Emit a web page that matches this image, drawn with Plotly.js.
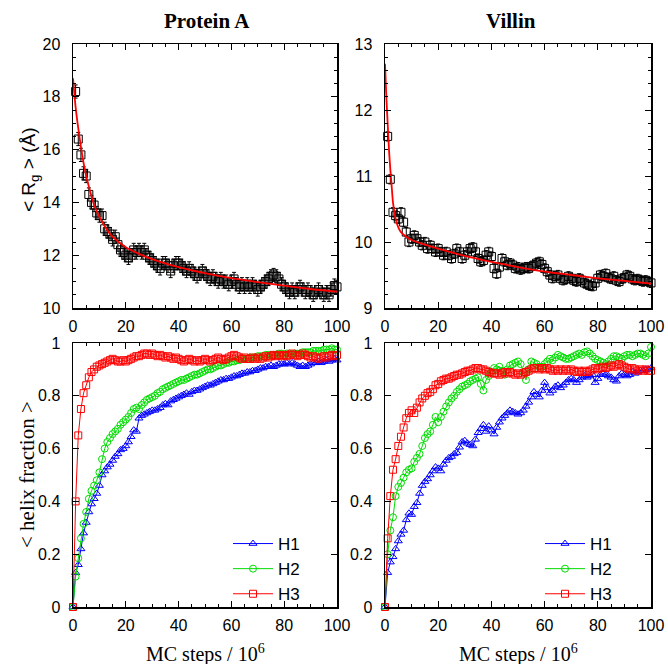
<!DOCTYPE html>
<html>
<head>
<meta charset="utf-8">
<script src="https://cdn.plot.ly/plotly-3.0.1.min.js"></script>
<style>html,body{margin:0;padding:0;background:#fff;}#chart{width:668px;height:664px;}</style>
</head>
<body>
<div id="chart"></div>
<script>
// ---------- DATA ----------
const panelTitles = ["Protein A", "Villin"];
const seriesNames = ["H1", "H2", "H3"];
const xTickVals = [0, 20, 40, 60, 80, 100];

// MC steps (10^6) for helix fractions (0..100) and Rg (1..100)
const stepsHelix = Array.from({length: 101}, (_, i) => i);
const stepsRg = Array.from({length: 100}, (_, i) => i + 1);

// Protein A <Rg> (Å)
const rgProteinA = [18.2,16.4,15.8,15.1,15.0,14.3,14.0,13.9,13.6,13.5,
  13.5,13.0,12.9,12.8,12.6,12.7,12.4,12.2,12.1,12.0,
  11.9,12.0,12.2,12.1,12.2,12.1,12.2,12.0,11.9,11.8,
  11.7,11.6,11.5,11.7,11.7,11.6,11.4,11.6,11.7,11.7,
  11.6,11.5,11.4,11.5,11.4,11.3,11.2,11.3,11.4,11.3,
  11.2,11.1,11.2,11.1,11.0,11.1,11.0,11.0,10.9,11.0,
  11.1,10.9,10.8,10.9,10.8,10.9,10.8,10.9,10.8,10.7,
  10.8,10.9,11.0,11.1,11.2,11.25,11.2,11.1,10.9,10.8,
  10.7,10.6,10.7,10.6,10.7,10.8,10.7,10.6,10.7,10.6,
  10.5,10.6,10.7,10.6,10.5,10.6,10.5,10.7,10.85,10.8];
const rgErrProteinA = 0.25;
const fitXProteinA = [0,1,2,3,4,5,6,8,10,12,15,20,25,30,40,50,60,70,80,90,100];
const fitYProteinA = [18.7,17.6,16.8,16.1,15.5,15.0,14.6,13.9,13.45,13.1,12.7,12.3,12.05,11.85,11.55,11.32,11.13,10.98,10.85,10.72,10.62];

// Villin <Rg> (Å)
const rgVillin = [11.6,10.95,10.45,10.4,10.35,10.45,10.3,10.15,10.0,10.05,
  10.1,10.05,10.0,9.95,10.0,9.9,9.95,9.9,9.85,9.9,
  9.85,9.8,9.85,9.8,9.75,9.82,9.9,9.85,9.75,9.8,
  9.85,9.9,9.92,9.85,9.75,9.7,9.72,9.8,9.85,9.78,
  9.6,9.52,9.62,9.75,9.7,9.65,9.68,9.65,9.6,9.62,
  9.58,9.6,9.62,9.6,9.63,9.65,9.68,9.7,9.66,9.6,
  9.55,9.5,9.45,9.48,9.5,9.45,9.42,9.44,9.48,9.45,
  9.42,9.4,9.45,9.42,9.38,9.36,9.34,9.33,9.38,9.45,
  9.5,9.48,9.52,9.46,9.44,9.48,9.42,9.4,9.44,9.46,
  9.5,9.48,9.44,9.42,9.44,9.42,9.4,9.42,9.4,9.38];
const rgErrVillin = 0.07;
const fitXVillin = [0,0.5,1,1.5,2,2.5,3,4,5,6,8,10,15,20,30,40,50,60,70,80,90,100];
const fitYVillin = [12.7,12.2,11.8,11.4,11.1,10.85,10.6,10.35,10.22,10.15,10.08,10.03,9.96,9.9,9.79,9.7,9.62,9.55,9.5,9.45,9.41,9.37];

// Protein A helix fractions
const pA_H1 = [0,0.13,0.16,0.22,0.28,0.32,0.36,0.39,0.41,0.43,
  0.46,0.50,0.515,0.53,0.54,0.555,0.57,0.58,0.595,0.60,
  0.61,0.625,0.645,0.67,0.665,0.715,0.725,0.73,0.735,0.74,
  0.745,0.745,0.75,0.755,0.765,0.77,0.765,0.78,0.785,0.79,
  0.795,0.80,0.805,0.81,0.805,0.815,0.82,0.82,0.825,0.83,
  0.835,0.84,0.84,0.845,0.85,0.855,0.86,0.86,0.865,0.865,
  0.87,0.875,0.875,0.88,0.885,0.885,0.89,0.89,0.895,0.895,
  0.90,0.905,0.905,0.91,0.91,0.915,0.91,0.915,0.92,0.92,
  0.92,0.925,0.92,0.925,0.92,0.915,0.91,0.915,0.91,0.915,
  0.92,0.925,0.925,0.93,0.925,0.93,0.935,0.93,0.935,0.94,0.935];
const pA_H2 = [0,0.115,0.185,0.26,0.315,0.36,0.41,0.44,0.46,0.48,
  0.51,0.56,0.60,0.625,0.64,0.655,0.665,0.675,0.69,0.70,
  0.71,0.72,0.735,0.75,0.755,0.75,0.765,0.775,0.785,0.79,
  0.795,0.80,0.81,0.815,0.825,0.83,0.835,0.84,0.845,0.85,
  0.855,0.86,0.86,0.865,0.87,0.875,0.88,0.88,0.885,0.89,
  0.895,0.90,0.90,0.905,0.91,0.915,0.915,0.92,0.925,0.925,
  0.93,0.93,0.935,0.935,0.94,0.94,0.94,0.945,0.945,0.945,
  0.95,0.95,0.95,0.955,0.955,0.955,0.955,0.955,0.96,0.96,
  0.955,0.96,0.96,0.955,0.96,0.96,0.96,0.965,0.965,0.965,
  0.965,0.97,0.97,0.97,0.97,0.975,0.975,0.975,0.98,0.975,0.975];
const pA_H3 = [0,0.40,0.65,0.75,0.81,0.84,0.87,0.89,0.90,0.91,
  0.915,0.92,0.925,0.93,0.935,0.94,0.935,0.93,0.93,0.935,
  0.93,0.935,0.94,0.945,0.95,0.95,0.955,0.96,0.96,0.955,
  0.96,0.955,0.95,0.955,0.95,0.945,0.95,0.945,0.94,0.945,
  0.94,0.935,0.93,0.935,0.94,0.935,0.93,0.935,0.93,0.935,
  0.94,0.935,0.93,0.935,0.94,0.945,0.94,0.935,0.94,0.945,
  0.95,0.955,0.95,0.945,0.94,0.945,0.94,0.94,0.945,0.94,
  0.945,0.94,0.945,0.95,0.945,0.95,0.955,0.95,0.955,0.95,
  0.955,0.95,0.955,0.96,0.955,0.95,0.955,0.96,0.955,0.95,
  0.945,0.95,0.945,0.94,0.945,0.95,0.945,0.95,0.955,0.95,0.955];

// Villin helix fractions
const vi_H1 = [0,0.13,0.17,0.19,0.22,0.25,0.275,0.29,0.33,0.355,
  0.35,0.38,0.395,0.43,0.46,0.475,0.485,0.50,0.515,0.53,
  0.525,0.515,0.54,0.555,0.565,0.57,0.58,0.585,0.605,0.625,
  0.63,0.62,0.615,0.61,0.635,0.66,0.675,0.69,0.665,0.685,
  0.67,0.655,0.68,0.70,0.715,0.725,0.735,0.745,0.74,0.735,
  0.73,0.735,0.745,0.76,0.775,0.795,0.815,0.805,0.795,0.82,
  0.85,0.83,0.81,0.82,0.835,0.84,0.83,0.84,0.85,0.86,
  0.865,0.86,0.85,0.86,0.87,0.875,0.87,0.875,0.88,0.85,
  0.865,0.88,0.885,0.88,0.875,0.87,0.86,0.855,0.875,0.885,
  0.88,0.875,0.88,0.89,0.885,0.89,0.895,0.895,0.90,0.90,0.905];
const vi_H2 = [0,0.20,0.29,0.34,0.42,0.455,0.47,0.49,0.51,0.52,
  0.525,0.55,0.565,0.58,0.61,0.64,0.655,0.665,0.69,0.72,
  0.70,0.72,0.74,0.76,0.775,0.79,0.80,0.815,0.825,0.835,
  0.84,0.845,0.855,0.86,0.865,0.87,0.845,0.82,0.86,0.875,
  0.89,0.905,0.90,0.91,0.895,0.88,0.90,0.915,0.92,0.925,
  0.93,0.92,0.89,0.86,0.90,0.93,0.925,0.92,0.91,0.91,
  0.92,0.93,0.94,0.935,0.945,0.955,0.95,0.945,0.94,0.94,
  0.945,0.95,0.955,0.96,0.955,0.965,0.968,0.96,0.95,0.94,
  0.935,0.93,0.925,0.92,0.93,0.94,0.95,0.95,0.945,0.94,
  0.95,0.955,0.955,0.95,0.955,0.96,0.96,0.955,0.95,0.96,0.985];
const vi_H3 = [0,0.26,0.42,0.52,0.56,0.61,0.645,0.68,0.715,0.735,
  0.745,0.735,0.755,0.775,0.79,0.80,0.81,0.815,0.825,0.84,
  0.845,0.855,0.86,0.865,0.865,0.87,0.875,0.88,0.88,0.885,
  0.89,0.895,0.895,0.90,0.905,0.905,0.90,0.90,0.895,0.89,
  0.885,0.885,0.885,0.88,0.885,0.89,0.885,0.89,0.885,0.88,
  0.885,0.88,0.885,0.89,0.895,0.90,0.905,0.905,0.90,0.905,
  0.90,0.905,0.90,0.895,0.90,0.895,0.90,0.895,0.90,0.895,
  0.90,0.895,0.89,0.895,0.89,0.895,0.89,0.895,0.90,0.905,
  0.90,0.905,0.91,0.905,0.91,0.915,0.91,0.915,0.92,0.915,
  0.91,0.905,0.90,0.905,0.90,0.895,0.90,0.895,0.90,0.895,0.895];

// ---------- STYLE ----------
const W = 668, H = 664;
const px = v => v / W, py = v => 1 - v / H;
const SANS = "Liberation Sans, Arial, sans-serif";
const SERIF = "Liberation Serif, Times New Roman, serif";
const colors = {H1: "#0000ff", H2: "#00dd00", H3: "#ff0000"};
const symbols = {H1: "triangle-up-open", H2: "circle-open", H3: "square-open"};

function helixTrace(y, name, xa, ya, legend) {
  return {
    type: "scatter", mode: "lines+markers", x: stepsHelix, y: y, name: name,
    xaxis: xa, yaxis: ya, legend: legend, cliponaxis: false,
    line: {color: colors[name], width: 1},
    marker: {symbol: symbols[name], size: 7, color: colors[name], line: {width: 1, color: colors[name]}}
  };
}
function rgTrace(y, err, xa, ya) {
  return {
    type: "scatter", mode: "markers", x: stepsRg, y: y, xaxis: xa, yaxis: ya,
    showlegend: false, cliponaxis: false,
    marker: {symbol: "square-open", size: 8, color: "#000", line: {width: 1, color: "#000"}},
    error_y: {type: "constant", value: err, color: "#000", thickness: 1, width: 2}
  };
}
function fitTrace(x, y, xa, ya) {
  return {
    type: "scatter", mode: "lines", x: x, y: y, xaxis: xa, yaxis: ya, showlegend: false,
    line: {color: "#ff0000", width: 1.8, shape: "spline", smoothing: 0.6}
  };
}

const data = [
  rgTrace(rgProteinA, rgErrProteinA, "x", "y"),
  fitTrace(fitXProteinA, fitYProteinA, "x", "y"),
  rgTrace(rgVillin, rgErrVillin, "x2", "y2"),
  fitTrace(fitXVillin, fitYVillin, "x2", "y2"),
  helixTrace(pA_H1, seriesNames[0], "x3", "y3", "legend"),
  helixTrace(pA_H2, seriesNames[1], "x3", "y3", "legend"),
  helixTrace(pA_H3, seriesNames[2], "x3", "y3", "legend"),
  helixTrace(vi_H1, seriesNames[0], "x4", "y4", "legend2"),
  helixTrace(vi_H2, seriesNames[1], "x4", "y4", "legend2"),
  helixTrace(vi_H3, seriesNames[2], "x4", "y4", "legend2")
];

const tickFont = {family: SANS, size: 16, color: "#000"};
function xAxis(dom, anchor) {
  return {
    domain: dom, anchor: anchor, range: [0, 100], tickvals: xTickVals,
    ticks: "inside", ticklen: 6, tickwidth: 1, tickcolor: "#000",
    minor: {dtick: 5, ticks: "inside", ticklen: 3, tickcolor: "#000", tickwidth: 1},
    showline: true, linecolor: "#000", linewidth: 1.5, mirror: "allticks",
    showgrid: false, zeroline: false, tickfont: tickFont, ticklabelstandoff: 3
  };
}
function yAxis(dom, anchor, range, dtick, minorDtick) {
  const a = {
    domain: dom, anchor: anchor, range: range, dtick: dtick, tick0: range[0],
    ticks: "inside", ticklen: 6, tickwidth: 1, tickcolor: "#000",
    showline: true, linecolor: "#000", linewidth: 1.5, mirror: "allticks",
    showgrid: false, zeroline: false, tickfont: tickFont, ticklabelstandoff: 8
  };
  if (minorDtick) a.minor = {dtick: minorDtick, ticks: "inside", ticklen: 3, tickcolor: "#000", tickwidth: 1};
  return a;
}

const domL = [px(73), px(337)], domR = [px(385), px(651)];
const domT = [py(308), py(44)], domB = [py(607), py(343)];

const legendBase = {
  xanchor: "left", yanchor: "top", bgcolor: "rgba(0,0,0,0)", borderwidth: 0,
  font: {family: SANS, size: 17, color: "#000"}, tracegroupgap: 0, itemwidth: 40
};

const layout = {
  width: W, height: H, margin: {l: 0, r: 0, t: 0, b: 0},
  paper_bgcolor: "#fff", plot_bgcolor: "#fff",
  xaxis: xAxis(domL, "y"), yaxis: yAxis(domT, "x", [10, 20], 2, 0.5),
  xaxis2: xAxis(domR, "y2"), yaxis2: yAxis(domT, "x2", [9, 13], 1, 0.2),
  xaxis3: xAxis(domL, "y3"), yaxis3: yAxis(domB, "x3", [0, 1], 0.2, null),
  xaxis4: xAxis(domR, "y4"), yaxis4: yAxis(domB, "x4", [0, 1], 0.2, null),
  legend: Object.assign({x: px(228), y: py(526)}, legendBase),
  legend2: Object.assign({x: px(540), y: py(526)}, legendBase),
  annotations: [
    {text: "<b>" + panelTitles[0] + "</b>", x: px(207), y: py(21), xref: "paper", yref: "paper", showarrow: false, xanchor: "center", yanchor: "middle", font: {family: SERIF, size: 21, color: "#000"}},
    {text: "<b>" + panelTitles[1] + "</b>", x: px(511), y: py(21), xref: "paper", yref: "paper", showarrow: false, xanchor: "center", yanchor: "middle", font: {family: SERIF, size: 21, color: "#000"}},
    {text: "< R<sub>g</sub> > (Å)", x: px(30), y: py(170), xref: "paper", yref: "paper", showarrow: false, xanchor: "center", yanchor: "middle", textangle: -90, font: {family: SANS, size: 19, color: "#000"}},
    {text: "< helix fraction >", x: px(27), y: py(475), xref: "paper", yref: "paper", showarrow: false, xanchor: "center", yanchor: "middle", textangle: -90, font: {family: SERIF, size: 21, color: "#000"}},
    {text: "MC steps / 10<sup>6</sup>", x: px(205), y: py(653), xref: "paper", yref: "paper", showarrow: false, xanchor: "center", yanchor: "middle", font: {family: SERIF, size: 20, color: "#000"}},
    {text: "MC steps / 10<sup>6</sup>", x: px(518), y: py(653), xref: "paper", yref: "paper", showarrow: false, xanchor: "center", yanchor: "middle", font: {family: SERIF, size: 20, color: "#000"}}
  ]
};

Plotly.newPlot("chart", data, layout, {displayModeBar: false, staticPlot: true});
</script>
</body>
</html>
